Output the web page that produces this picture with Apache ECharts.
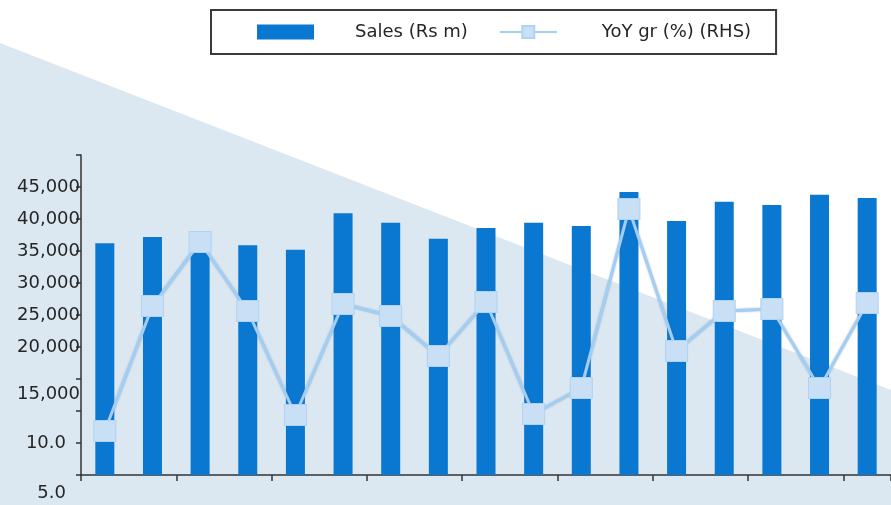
<!DOCTYPE html>
<html>
<head>
<meta charset="utf-8">
<script src="https://cdn.jsdelivr.net/npm/echarts@6/dist/echarts.min.js"></script>
<style>
  html, body { margin: 0; padding: 0; background: #ffffff; }
  #chart { width: 891px; height: 505px; }
</style>
</head>
<body>
<div id="chart"></div>
<script>
// Quarterly periods (category axis, labels not shown)
const quarters = ['1QFY20', '2QFY20', '3QFY20', '4QFY20', '1QFY21', '2QFY21', '3QFY21', '4QFY21',
  '1QFY22', '2QFY22', '3QFY22', '4QFY22', '1QFY23', '2QFY23', '3QFY23', '4QFY23', '1QFY24'];

// Sales (Rs m)
const sales = [36200, 37200, 37800, 35900, 35200, 40900, 39400, 36900, 38600,
  39400, 38900, 44200, 39700, 42700, 42200, 43800, 43300];

// YoY growth (%)
const yoyGrowth = [11.2, 23.7, 30.1, 23.2, 12.8, 23.9, 22.7, 18.7, 24.1,
  12.9, 15.5, 33.4, 19.2, 23.2, 23.4, 15.5, 24.0];

// Tick labels shown on the left side
const salesTickLabels = [15000, 20000, 25000, 30000, 35000, 40000, 45000];
const growthTickLabels = [5, 10];

const seriesNames = ['Sales (Rs m)', 'YoY gr (%) (RHS)'];

const axisFont = 'DejaVu Sans';
const textColor = '#262626';
const withCommas = v => String(v).replace(/\B(?=(\d{3})+(?!\d))/g, ',');

const chart = echarts.init(document.getElementById('chart'), null, { renderer: 'canvas' });

chart.setOption({
  animation: false,
  backgroundColor: '#ffffff',
  graphic: {
    elements: [{
      type: 'polygon',
      z: -100,
      silent: true,
      shape: { points: [[0, 43], [891, 390], [891, 505], [0, 505]] },
      style: { fill: '#dbe8f1' }
    }]
  },
  legend: {
    data: [
      { name: seriesNames[0], icon: 'rect' },
      { name: seriesNames[1], textStyle: { padding: [0, 0, 0, 40] } }
    ],
    left: 211,
    top: 10,
    padding: [13, 25, 13, 46],
    itemGap: 31,
    itemWidth: 57,
    itemHeight: 15,
    backgroundColor: '#ffffff',
    borderColor: '#3a3a3a',
    borderWidth: 2,
    borderRadius: 0,
    textStyle: {
      fontFamily: axisFont,
      fontSize: 18,
      color: textColor,
      padding: [0, 0, 0, 36]
    }
  },
  grid: [
    { left: 81, top: 155, width: 812, height: 320, containLabel: false },
    { left: 81, top: 155, width: 812, height: 348, containLabel: false }
  ],
  xAxis: [
    {
      type: 'category',
      gridIndex: 0,
      data: quarters,
      boundaryGap: true,
      axisLine: { lineStyle: { color: '#333333', width: 1.5 } },
      axisTick: { show: true, length: 6, lineStyle: { color: '#333333', width: 1.5 } },
      axisLabel: { show: false },
      splitLine: { show: false }
    },
    {
      type: 'category',
      gridIndex: 1,
      data: quarters,
      boundaryGap: true,
      show: false
    }
  ],
  yAxis: [
    {
      type: 'value',
      gridIndex: 0,
      position: 'left',
      min: 0,
      max: 50000,
      interval: 5000,
      axisLine: { show: true, lineStyle: { color: '#333333', width: 1.5 } },
      axisTick: { show: true, length: 5, lineStyle: { color: '#333333', width: 1.5 } },
      splitLine: { show: false },
      axisLabel: {
        customValues: salesTickLabels,
        margin: 1,
        fontFamily: axisFont,
        fontSize: 18,
        color: textColor,
        formatter: v => v === 15000 ? '{low|' + withCommas(v) + '}' : withCommas(v),
        rich: {
          low: { fontFamily: axisFont, fontSize: 18, color: textColor, padding: [30, 0, 0, 0] }
        }
      }
    },
    {
      type: 'value',
      gridIndex: 1,
      position: 'left',
      min: 4,
      max: 38.8,
      axisLine: { show: false },
      axisTick: { show: false },
      splitLine: { show: false },
      axisLabel: {
        customValues: growthTickLabels,
        margin: 15,
        fontFamily: axisFont,
        fontSize: 18,
        color: textColor,
        formatter: v => v.toFixed(1)
      }
    }
  ],
  series: [
    {
      name: seriesNames[0],
      type: 'bar',
      xAxisIndex: 0,
      yAxisIndex: 0,
      data: sales,
      barWidth: 19,
      itemStyle: { color: '#0a77d0' },
      z: 2
    },
    {
      name: seriesNames[1],
      type: 'line',
      xAxisIndex: 1,
      yAxisIndex: 1,
      data: yoyGrowth,
      symbol: 'rect',
      symbolSize: [22, 21],
      showSymbol: true,
      lineStyle: {
        color: '#9fcff5',
        width: 3,
        shadowColor: 'rgba(110,110,150,0.5)',
        shadowBlur: 2
      },
      itemStyle: {
        color: '#c8dff5',
        borderColor: '#aed3f3',
        borderWidth: 1
      },
      z: 5
    }
  ]
});
</script>
</body>
</html>
